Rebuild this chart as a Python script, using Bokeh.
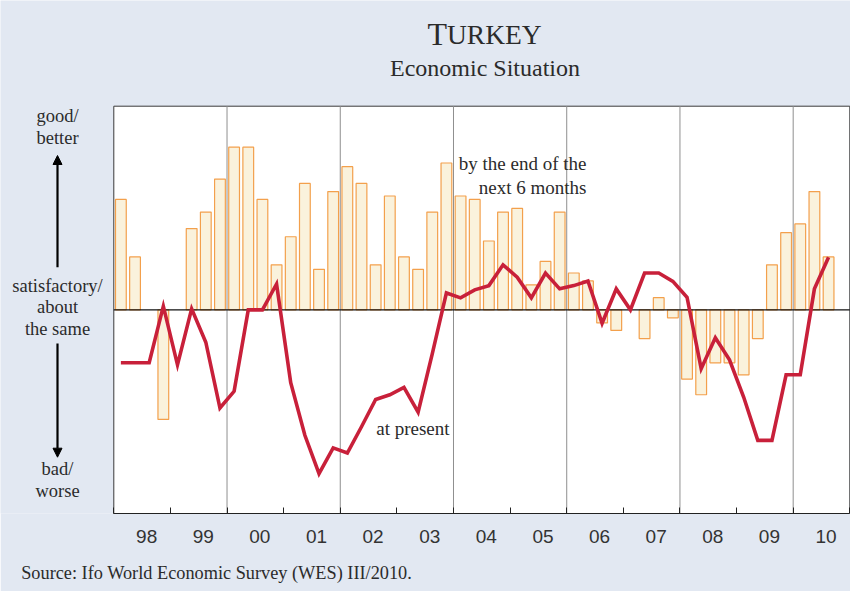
import numpy as np
from bokeh.plotting import figure
from bokeh.models import (Range1d, FixedTicker, CustomJSTickFormatter, Label,
                          Arrow, NormalHead, ColumnDataSource, Title)
from bokeh.embed import file_html
from bokeh.resources import INLINE

# ---------------- data (quarterly, Q1 1998 .. Q3 2010) ----------------
first_year = 1998
last_year = 2010
year_labels = ["98", "99", "00", "01", "02", "03", "04", "05", "06", "07", "08", "09", "10"]

# expectations: "by the end of the next 6 months" (bars); None = no value
expectations = [54.2, 26.0, None, -53.8, None, 39.9, 48.0, 64.2,
                79.9, 79.9, 54.2, 22.1,
                35.9, 62.1, 19.9, 58.1,
                70.3, 62.1, 22.1, 55.9,
                26.0, 19.9, 48.0, 72.1,
                55.9, 54.2, 33.8, 48.0,
                49.8, 12.3, 23.8, 48.0,
                18.1, 14.2, -6.4, -10.1,
                None, -14.1, 6.0, -3.9,
                -34.0, -41.7, -26.0, -26.0,
                -31.9, -14.1, 22.1, 37.9,
                42.2, 58.1, 26.0]

# present situation (line)
present = [-26.0, -26.0, -26.0, 1.8, -27.0, 0.5, -15.9, -48.2,
           -40.0, 0.0, 0.0, 12.7,
           -35.8, -61.6, -80.4, -67.8,
           -70.3, -57.4, -44.0, -41.7,
           -38.1, -50.2, -21.6, 8.3,
           5.9, 9.8, 11.9, 22.1,
           16.0, 5.9, 18.1, 10.3,
           11.9, 14.2, -6.6, 10.3,
           0.0, 18.1, 18.1, 14.0,
           6.2, -28.9, -13.7, -24.5,
           -42.8, -64.1, -64.1, -31.9,
           -31.9, 10.3, 25.8]

grid_years = [2000, 2002, 2004, 2006, 2008, 2010]
y_min, y_max = -100, 100

# ---------------- styling / layout ----------------
BG = "#e2e8f2"
SERIF = "Liberation Serif"
SANS = "Liberation Sans"
TXT = "#2b2b2b"

FIG_W, FIG_H = 850, 591
BOTTOM_BORDER = 78                     # room for axis labels + source line
FRAME_H = FIG_H - BOTTOM_BORDER        # frame covers everything above the axis
AREA_L, AREA_R, AREA_T = 113.3, 849.3, 105.7   # plot-area pixel edges
ppx = (AREA_R - AREA_L) / (last_year + 1 - first_year)
ppy = (FRAME_H - AREA_T) / (y_max - y_min)
x0 = first_year - AREA_L / ppx
x1 = (last_year + 1) + (FIG_W - AREA_R) / ppx
y1 = y_max + AREA_T / ppy

q = np.arange(len(present))
xq = first_year + (q + 0.5) / 4.0

bar_x = [x for x, v in zip(xq, expectations) if v is not None]
bar_v = [v for v in expectations if v is not None]
bars = ColumnDataSource(dict(x=bar_x, top=bar_v))
line = ColumnDataSource(dict(x=list(xq), y=present))

p = figure(width=FIG_W, height=FIG_H,
           x_range=Range1d(x0, x1), y_range=Range1d(y_min, y1),
           output_backend="svg", toolbar_location=None,
           min_border_left=0, min_border_right=0,
           min_border_top=0, min_border_bottom=BOTTOM_BORDER,
           background_fill_color=BG, border_fill_color=BG)
p.outline_line_color = None
p.xgrid.visible = False
p.ygrid.visible = False
p.yaxis.visible = False

# white plot area with dark border
p.quad(left=[first_year], right=[last_year + 1], bottom=[y_min], top=[y_max],
       fill_color="white", line_color="#3a3a3a", line_width=1)

# vertical lines every two years
p.segment(x0=grid_years, y0=[y_min] * len(grid_years), x1=grid_years,
          y1=[y_max] * len(grid_years), line_color="#8f8f8f", line_width=1)

ax = p.xaxis[0]
ax.bounds = (first_year, last_year + 1)
ax.ticker = FixedTicker(ticks=[y + 0.58 for y in range(first_year, last_year + 1)],
                        minor_ticks=list(range(first_year, last_year + 2)))
ax.formatter = CustomJSTickFormatter(code="return String(Math.floor(tick) % 100).padStart(2, '0');")
ax.major_tick_in = 0
ax.major_tick_out = 0
ax.minor_tick_in = 6
ax.minor_tick_out = 0
ax.minor_tick_line_color = "#222222"
ax.axis_line_color = "#222222"
ax.major_label_text_font = SANS
ax.major_label_text_font_size = "19px"
ax.major_label_text_color = "#333333"
ax.major_label_standoff = 16
# invisible spacer label: pushes the source line a little lower
ax.axis_label = "\u00a0"
ax.axis_label_text_font_size = "10px"
ax.axis_label_standoff = 0

p.vbar(x="x", top="top", bottom=0, width=0.19, source=bars,
       fill_color="#faf2dc", line_color="#f3a04c", line_width=1.2)
p.segment(x0=[first_year], y0=[0], x1=[last_year + 1], y1=[0],
          line_color="#111111", line_width=1.3)
p.line(x="x", y="y", source=line, line_color="#c8203a", line_width=3.6,
       line_join="miter")

# ---------------- annotations (positions from reference pixels) ----------------
def RX(px):
    return x0 + px / ppx


def RY(py):
    return y_min + (FRAME_H - py) / ppy


def lab(text, px, py, size, align="center", baseline="middle", font=SERIF, color=TXT):
    p.add_layout(Label(x=RX(px), y=RY(py), text=text, text_font=font,
                       text_font_size=size, text_align=align,
                       text_baseline=baseline, text_color=color))


# title (small caps)
lab("T", 446.5, 33.5, "32px", align="right", baseline="alphabetic")
lab("URKEY", 446.5, 33.5, "27.5px", align="left", baseline="alphabetic")
lab("Economic Situation", 484.5, 67.5, "24px", baseline="alphabetic")

# left scale descriptions
for t, y in [("good/", 115), ("better", 137.7),
             ("satisfactory/", 285), ("about", 306.7), ("the same", 328.3),
             ("bad/", 468.3), ("worse", 490.7)]:
    lab(t, 57, y, "18.5px")

for ya, yb in [(266.7, 155), (343, 456.7)]:
    p.add_layout(Arrow(end=NormalHead(size=9, fill_color="black", line_color="black"),
                       x_start=RX(57), y_start=RY(ya), x_end=RX(57), y_end=RY(yb),
                       line_color="black", line_width=2.2))

lab("by the end of the", 586, 163.3, "19px", align="right")
lab("next 6 months", 586, 186.7, "19px", align="right")
lab("at present", 375.7, 428.3, "19px", align="left")

p.add_layout(Title(text="Source: Ifo World Economic Survey (WES) III/2010.",
                   align="left", offset=20.7, standoff=2,
                   text_font=SERIF, text_font_size="18.3px",
                   text_font_style="normal", text_color=TXT), "below")

open("out.html", "w").write(file_html(p, INLINE))
